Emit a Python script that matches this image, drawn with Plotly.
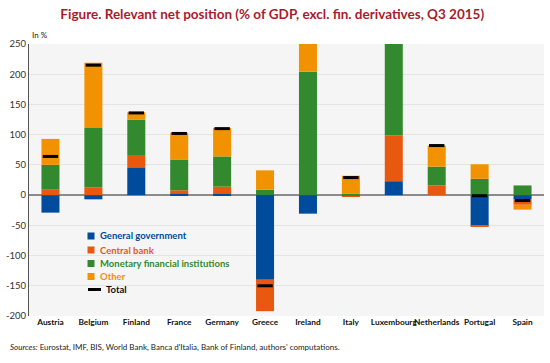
import plotly.graph_objects as go

countries = ["Austria", "Belgium", "Finland", "France", "Germany", "Greece",
             "Ireland", "Italy", "Luxembourg", "Netherlands", "Portugal", "Spain"]
general_government = [-29, -7, 46, 3, 3, -140, -30, 0, 23, 0, -51, -7]
central_bank = [9, 13, 19, 5, 11, -52, -1, -2, 76, 16, -1, -9]
mfi = [41, 98, 60, 51, 50, 9, 204, 2, 190, 31, 27, 16]
other = [43, 108, 12, 44, 47, 32, 90, 30, 0, 35, 24, -8]
total = [64, 215, 136, 102, 110, -150, 263, 29, 289, 82, -1, -9]

ytick_vals = [250, 200, 150, 100, 50, 0, -50, -100, -150, -200]
ytick_text = ["250", "200", "150", "100", "50", "0", "-50", "-100", "-150", "-200"]

series = [
    ("General government", general_government, "#004B9B"),
    ("Central bank", central_bank, "#E8590F"),
    ("Monetary financial institutions", mfi, "#338A2E"),
    ("Other", other, "#F39200"),
]

FONT = "Lato"
W, H = 550, 363
ML, MR, MT, MB = 29, 6, 44, 47
PW, PH = W - ML - MR, H - MT - MB


def px_x(x):
    return (x - ML) / PW


def px_y(y):
    return (H - MB - y) / PH


fig = go.Figure()
for name, vals, col in series:
    fig.add_trace(go.Bar(
        x=countries, y=vals, name=name,
        marker=dict(color=col, line=dict(width=0)),
    ))
fig.add_trace(go.Scatter(
    x=countries, y=total, mode="markers", name="Total",
    marker=dict(symbol="line-ew", size=11, color="black",
                line=dict(width=3, color="black")),
))

# manual compact legend
shapes = []
annotations = []
rows = [236, 250, 263.5, 276.5]
for (name, _, col), yc in zip(series, rows):
    shapes.append(dict(type="rect", xref="paper", yref="paper",
                       x0=px_x(87.5), x1=px_x(94.5), y0=px_y(yc + 3.5), y1=px_y(yc - 3.5),
                       fillcolor=col, line=dict(width=0)))
    annotations.append(dict(text=f"<b>{name}</b>", xref="paper", yref="paper",
                            x=px_x(97.5), y=px_y(yc), xanchor="left", yanchor="middle",
                            showarrow=False, font=dict(family=FONT, size=9.5, color=col)))
shapes.append(dict(type="line", xref="paper", yref="paper",
                   x0=px_x(88), x1=px_x(101), y0=px_y(289.5), y1=px_y(289.5),
                   line=dict(color="black", width=3)))
annotations.append(dict(text="<b>Total</b>", xref="paper", yref="paper",
                        x=px_x(104), y=px_y(289), xanchor="left", yanchor="middle",
                        showarrow=False, font=dict(family=FONT, size=9.5, color="#111")))

annotations += [
    dict(text="In %", xref="paper", yref="paper", x=px_x(30), y=px_y(35),
         xanchor="left", yanchor="middle", showarrow=False,
         font=dict(family=FONT, size=8, color="#222")),
    dict(text="<i>Sources:</i> Eurostat, IMF, BIS, World Bank, Banca d'Italia, Bank of Finland, authors' computations.",
         xref="paper", yref="paper", x=px_x(8), y=px_y(347),
         xanchor="left", yanchor="middle", showarrow=False,
         font=dict(family=FONT, size=8, color="#222")),
]

fig.update_layout(
    width=W, height=H,
    margin=dict(l=ML, r=MR, t=MT, b=MB),
    barmode="relative", bargap=0.58,
    paper_bgcolor="white", plot_bgcolor="#F5F5F5",
    font=dict(family=FONT, size=9, color="#222"),
    title=dict(text="<b>Figure. Relevant net position (% of GDP, excl. fin. derivatives, Q3 2015)</b>",
               x=0.495, xanchor="center", y=1 - 14 / H, yanchor="middle",
               font=dict(family=FONT, size=13.5, color="#A81C2C")),
    showlegend=False,
    hovermode=False,
    xaxis=dict(showgrid=False, showline=False, ticks="", tickangle=0,
               tickfont=dict(family=FONT, size=8.3, color="#111", weight="bold"),
               range=[-0.5, 11.5]),
    yaxis=dict(range=[-200, 250], tickvals=ytick_vals, ticktext=ytick_text,
               showgrid=True, gridcolor="#E4E4E4", gridwidth=1,
               zeroline=True, zerolinecolor="#8C8C8C", zerolinewidth=1.5,
               showline=True, linecolor="#555", linewidth=1,
               ticks="", tickfont=dict(family=FONT, size=9.5, color="#333")),
    shapes=shapes,
    annotations=annotations,
)

fig.write_html("out.html", config={"displayModeBar": False},
               post_script="document.body.style.margin='0';")
